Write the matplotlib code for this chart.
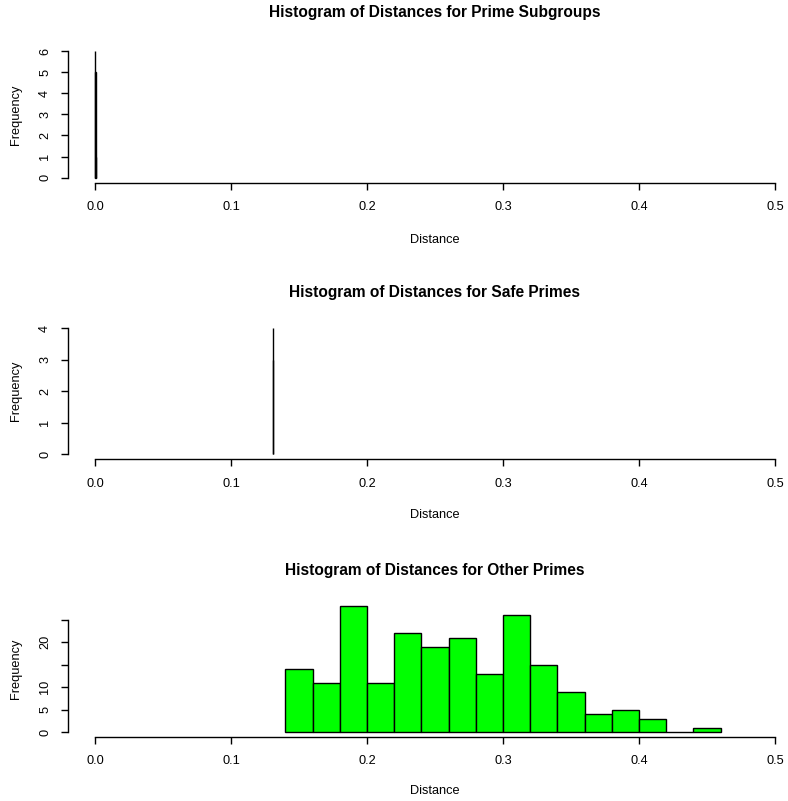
import matplotlib
matplotlib.use("Agg")
import matplotlib.pyplot as plt
import numpy as np

plt.rcParams['font.family'] = ['Liberation Sans', 'DejaVu Sans']

# ---- data ----
titles = ["Histogram of Distances for Prime Subgroups",
          "Histogram of Distances for Safe Primes",
          "Histogram of Distances for Other Primes"]

# Prime subgroups: tiny bins near zero
ps_breaks = [0.0000, 0.0002, 0.0004, 0.0006]
ps_counts = [6, 5, 1]

# Safe primes: tiny bins near 0.131
sp_breaks = [0.1306, 0.1308, 0.1310]
sp_counts = [4, 3]

# Other primes
op_breaks = [0.14, 0.16, 0.18, 0.20, 0.22, 0.24, 0.26, 0.28, 0.30, 0.32,
             0.34, 0.36, 0.38, 0.40, 0.42, 0.44, 0.46]
op_counts = [14, 11, 28, 11, 22, 19, 21, 13, 26, 15, 9, 4, 5, 3, 0, 1]

x_ticks = [0.0, 0.1, 0.2, 0.3, 0.4, 0.5]
x_ticklabels = ["0.0", "0.1", "0.2", "0.3", "0.4", "0.5"]

W, H = 788, 801
fig = plt.figure(figsize=(W / 100, H / 100), dpi=100)

def px_axes(left, top, right, bottom):
    return fig.add_axes([left / W, 1 - bottom / H, (right - left) / W, (bottom - top) / H])

panels = [
    dict(top=46.0, bottom=182.7, ymax=6, breaks=ps_breaks, counts=ps_counts,
         yticks=[0, 1, 2, 3, 4, 5, 6], ylabels=["0", "1", "2", "3", "4", "5", "6"],
         color="white", title_y=13, xlab_y=240),
    dict(top=323.0, bottom=459.5, ymax=4, breaks=sp_breaks, counts=sp_counts,
         yticks=[0, 1, 2, 3, 4], ylabels=["0", "1", "2", "3", "4"],
         color="white", title_y=292, xlab_y=515),
    dict(top=601.3, bottom=737.3, ymax=28, breaks=op_breaks, counts=op_counts,
         yticks=[0, 5, 10, 15, 20, 25], ylabels=["0", "5", "10", "", "20", ""],
         color="#00FF00", title_y=570, xlab_y=791),
]

FS = 9.2
FT = 11.2
left_px, right_px = 67.8, 802.2
for i, p in enumerate(panels):
    ax = px_axes(left_px, p["top"], right_px, p["bottom"])
    ext = 0.04 * p["ymax"]
    ax.set_ylim(-ext, p["ymax"] + ext)
    ax.set_xlim(-0.02, 0.52)
    b = np.array(p["breaks"])
    ax.bar(b[:-1], p["counts"], width=np.diff(b), align="edge",
           color=p["color"], edgecolor="black", linewidth=1.0)
    for s in ["top", "right"]:
        ax.spines[s].set_visible(False)
    ax.spines["left"].set_bounds(0, p["yticks"][-1])
    ax.spines["bottom"].set_bounds(0, 0.5)
    ax.spines["left"].set_linewidth(1.0)
    ax.spines["bottom"].set_linewidth(1.0)
    ax.set_xticks(x_ticks)
    ax.set_xticklabels(x_ticklabels, fontsize=FS)
    ax.set_yticks(p["yticks"])
    ax.set_yticklabels(p["ylabels"], fontsize=FS, rotation=90, va="center")
    ax.tick_params(axis="x", length=5.0, width=1.0, pad=8.0)
    ax.tick_params(axis="y", length=5.0, width=1.0, pad=7.0)
    ax.set_facecolor("none")
    cx = (left_px + right_px) / 2
    fig.text(cx / W, 1 - p["title_y"] / H, titles[i], ha="center", va="center",
             fontsize=FT, fontweight="bold")
    fig.text(cx / W, 1 - p["xlab_y"] / H, "Distance", ha="center", va="center",
             fontsize=FS)
    fig.text(16.0 / W, 1 - ((p["top"] + p["bottom"]) / 2) / H, "Frequency",
             ha="center", va="center", rotation=90, fontsize=FS)

fig.savefig("out.png", dpi=100)
